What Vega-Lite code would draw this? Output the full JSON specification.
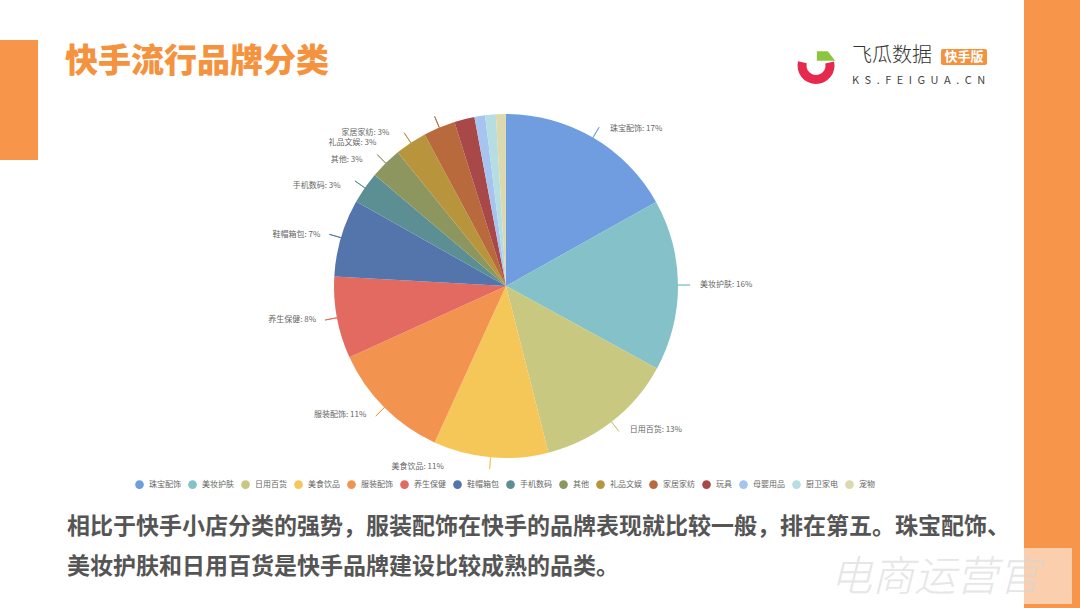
{
  "$schema": "https://vega.github.io/schema/vega-lite/v6.json",
  "width": 1012,
  "height": 572,
  "autosize": {"type": "none"},
  "padding": {"left": 0, "top": 0, "right": 68, "bottom": 36},
  "background": "#ffffff",
  "config": {"view": {"stroke": null}, "font": "Noto Sans CJK SC", "text": {"font": "Noto Sans CJK SC"}},
  "datasets": {
    "slices": [
      {"idx": 1, "category": "珠宝配饰", "value": 16.9, "label": "珠宝配饰: 17%"},
      {"idx": 2, "category": "美妆护肤", "value": 16.1, "label": "美妆护肤: 16%"},
      {"idx": 3, "category": "日用百货", "value": 13.1, "label": "日用百货: 13%"},
      {"idx": 4, "category": "美食饮品", "value": 10.8, "label": "美食饮品: 11%"},
      {"idx": 5, "category": "服装配饰", "value": 11.4, "label": "服装配饰: 11%"},
      {"idx": 6, "category": "养生保健", "value": 7.7, "label": "养生保健: 8%"},
      {"idx": 7, "category": "鞋帽箱包", "value": 7.3, "label": "鞋帽箱包: 7%"},
      {"idx": 8, "category": "手机数码", "value": 3.0, "label": "手机数码: 3%"},
      {"idx": 9, "category": "其他", "value": 3.0, "label": "其他: 3%"},
      {"idx": 10, "category": "礼品文娱", "value": 3.0, "label": "礼品文娱: 3%"},
      {"idx": 11, "category": "家居家纺", "value": 3.0, "label": "家居家纺: 3%"},
      {"idx": 12, "category": "玩具", "value": 1.9, "label": "玩具: 2%"},
      {"idx": 13, "category": "母婴用品", "value": 1.0, "label": "母婴用品: 1%"},
      {"idx": 14, "category": "厨卫家电", "value": 1.0, "label": "厨卫家电: 1%"},
      {"idx": 15, "category": "宠物", "value": 0.95, "label": "宠物: 1%"}
    ]
  },
  "layer": [
    {
      "data": {"values": [{}]},
      "mark": {"type": "rect", "color": "#f7964a"},
      "encoding": {"x": {"value": 0}, "x2": {"value": 38}, "y": {"value": 40}, "y2": {"value": 160}}
    },
    {
      "data": {"values": [{}]},
      "mark": {"type": "rect", "color": "#f7964a"},
      "encoding": {"x": {"value": 1024}, "x2": {"value": 1080}, "y": {"value": 0}, "y2": {"value": 608}}
    },
    {
      "data": {"values": [{}]},
      "mark": {"type": "text", "text": "快手流行品牌分类", "x": 65, "y": 62, "align": "left", "baseline": "middle", "fontSize": 33, "fontWeight": 900, "color": "#f5923e"}
    },
    {
      "data": {"values": [{}]},
      "mark": {"type": "arc", "x": 816, "y": 65.5, "radius": 18.5, "radius2": 9.5, "theta": 1.35, "theta2": 4.95, "color": "#e6294f"}
    },
    {
      "data": {"values": [{}]},
      "mark": {"type": "point", "x": 826, "y": 56, "size": 335, "shape": "M-1,-0.53 L0.2,-0.53 L1,0.53 L-1,0.53 Z", "filled": true, "opacity": 1, "color": "#8cc63f"}
    },
    {
      "data": {"values": [{}]},
      "mark": {"type": "text", "text": "飞瓜数据", "x": 852, "y": 56, "align": "left", "baseline": "middle", "fontSize": 20, "fontWeight": 300, "color": "#333333"}
    },
    {
      "data": {"values": [{}]},
      "mark": {"type": "rect", "color": "#f5923e", "cornerRadius": 2},
      "encoding": {"x": {"value": 941}, "x2": {"value": 987}, "y": {"value": 49}, "y2": {"value": 65}}
    },
    {
      "data": {"values": [{}]},
      "mark": {"type": "text", "text": "快手版", "x": 964, "y": 57, "align": "center", "baseline": "middle", "fontSize": 13, "fontWeight": "bold", "color": "#ffffff"}
    },
    {
      "data": {"values": [{}]},
      "mark": {"type": "text", "text": "K\u2002S\u2002.\u2002F\u2002E\u2002I\u2002G\u2002U\u2002A\u2002.\u2002C\u2002N", "x": 852, "y": 81, "align": "left", "baseline": "middle", "fontSize": 11, "color": "#444444"}
    },
    {
      "data": {"name": "slices"},
      "mark": {"type": "arc", "outerRadius": 172},
      "encoding": {
        "theta": {"field": "value", "type": "quantitative", "stack": true},
        "order": {"field": "idx", "type": "quantitative"},
        "color": {
          "field": "category",
          "type": "nominal",
          "scale": {
            "domain": ["珠宝配饰", "美妆护肤", "日用百货", "美食饮品", "服装配饰", "养生保健", "鞋帽箱包", "手机数码", "其他", "礼品文娱", "家居家纺", "玩具", "母婴用品", "厨卫家电", "宠物"],
            "range": ["#6f9de0", "#84c1c8", "#c8c880", "#f5c758", "#f2934f", "#e26a60", "#5474ac", "#5b8f93", "#8e9660", "#b8953c", "#b96a3c", "#a84848", "#a7c3ef", "#b5dde2", "#ddd9ae"]
          },
          "legend": {
            "orient": "none", "legendX": 135, "legendY": 480, "direction": "horizontal", "columns": 15,
            "title": null, "symbolType": "circle", "symbolSize": 75, "symbolStrokeWidth": 0,
            "labelFontSize": 8, "labelColor": "#666666", "columnPadding": 7, "labelOffset": 5
          }
        }
      }
    },
    {
      "data": {"name": "slices"},
      "mark": {"type": "arc", "radius": 184, "radius2": 172, "padAngle": 3, "filled": false, "strokeWidth": 0.9},
      "encoding": {
        "theta": {"field": "value", "type": "quantitative", "stack": true},
        "order": {"field": "idx", "type": "quantitative"},
        "color": {"field": "category", "type": "nominal", "legend": null},
        "strokeOpacity": {"condition": {"test": "datum.idx <= 11", "value": 1}, "value": 0}
      }
    },
    {
      "data": {"name": "slices"},
      "mark": {"type": "text", "radius": 182, "dx": 12, "align": "left", "baseline": "middle", "fontSize": 8, "color": "#666666"},
      "encoding": {
        "theta": {"field": "value", "type": "quantitative", "stack": true},
        "order": {"field": "idx", "type": "quantitative"},
        "text": {"condition": {"test": "datum.idx <= 3", "field": "label"}, "value": ""}
      }
    },
    {
      "data": {"name": "slices"},
      "mark": {"type": "text", "radius": 182, "dx": -46, "align": "right", "baseline": "middle", "fontSize": 8, "color": "#666666"},
      "encoding": {
        "theta": {"field": "value", "type": "quantitative", "stack": true},
        "order": {"field": "idx", "type": "quantitative"},
        "text": {"condition": {"test": "datum.idx == 4", "field": "label"}, "value": ""}
      }
    },
    {
      "data": {"name": "slices"},
      "mark": {"type": "text", "radius": 182, "dx": -11, "align": "right", "baseline": "middle", "fontSize": 8, "color": "#666666"},
      "encoding": {
        "theta": {"field": "value", "type": "quantitative", "stack": true},
        "order": {"field": "idx", "type": "quantitative"},
        "text": {"condition": {"test": "datum.idx >= 5 && datum.idx <= 7", "field": "label"}, "value": ""}
      }
    },
    {
      "data": {"name": "slices"},
      "mark": {"type": "text", "radius": 182, "dx": -16, "dy": 4, "align": "right", "baseline": "middle", "fontSize": 8, "color": "#666666"},
      "encoding": {
        "theta": {"field": "value", "type": "quantitative", "stack": true},
        "order": {"field": "idx", "type": "quantitative"},
        "text": {"condition": {"test": "datum.idx == 8 || datum.idx == 9", "field": "label"}, "value": ""}
      }
    },
    {
      "data": {"name": "slices"},
      "mark": {"type": "text", "radius": 182, "dx": -29, "dy": 9, "align": "right", "baseline": "middle", "fontSize": 8, "color": "#666666"},
      "encoding": {
        "theta": {"field": "value", "type": "quantitative", "stack": true},
        "order": {"field": "idx", "type": "quantitative"},
        "text": {"condition": {"test": "datum.idx == 10", "field": "label"}, "value": ""}
      }
    },
    {
      "data": {"name": "slices"},
      "mark": {"type": "text", "radius": 182, "dx": -46, "dy": 15, "align": "right", "baseline": "middle", "fontSize": 8, "color": "#666666"},
      "encoding": {
        "theta": {"field": "value", "type": "quantitative", "stack": true},
        "order": {"field": "idx", "type": "quantitative"},
        "text": {"condition": {"test": "datum.idx == 11", "field": "label"}, "value": ""}
      }
    },
    {
      "data": {"values": [{}]},
      "mark": {"type": "text", "text": "相比于快手小店分类的强势，服装配饰在快手的品牌表现就比较一般，排在第五。珠宝配饰、", "x": 67, "y": 527, "align": "left", "baseline": "middle", "fontSize": 23, "fontWeight": "bold", "color": "#555555"}
    },
    {
      "data": {"values": [{}]},
      "mark": {"type": "text", "text": "美妆护肤和日用百货是快手品牌建设比较成熟的品类。", "x": 67, "y": 567, "align": "left", "baseline": "middle", "fontSize": 23, "fontWeight": "bold", "color": "#555555"}
    },
    {
      "data": {"values": [{}]},
      "mark": {"type": "rect", "color": "#ffffff", "opacity": 0.55},
      "encoding": {"x": {"value": 790}, "x2": {"value": 1072}, "y": {"value": 548}, "y2": {"value": 604}}
    },
    {
      "data": {"values": [{}]},
      "mark": {"type": "text", "text": "电商运营官", "x": 935, "y": 578, "align": "center", "baseline": "middle", "fontSize": 42, "fontWeight": 300, "fontStyle": "italic", "color": "#d6d6d6", "opacity": 0.6}
    }
  ]
}
